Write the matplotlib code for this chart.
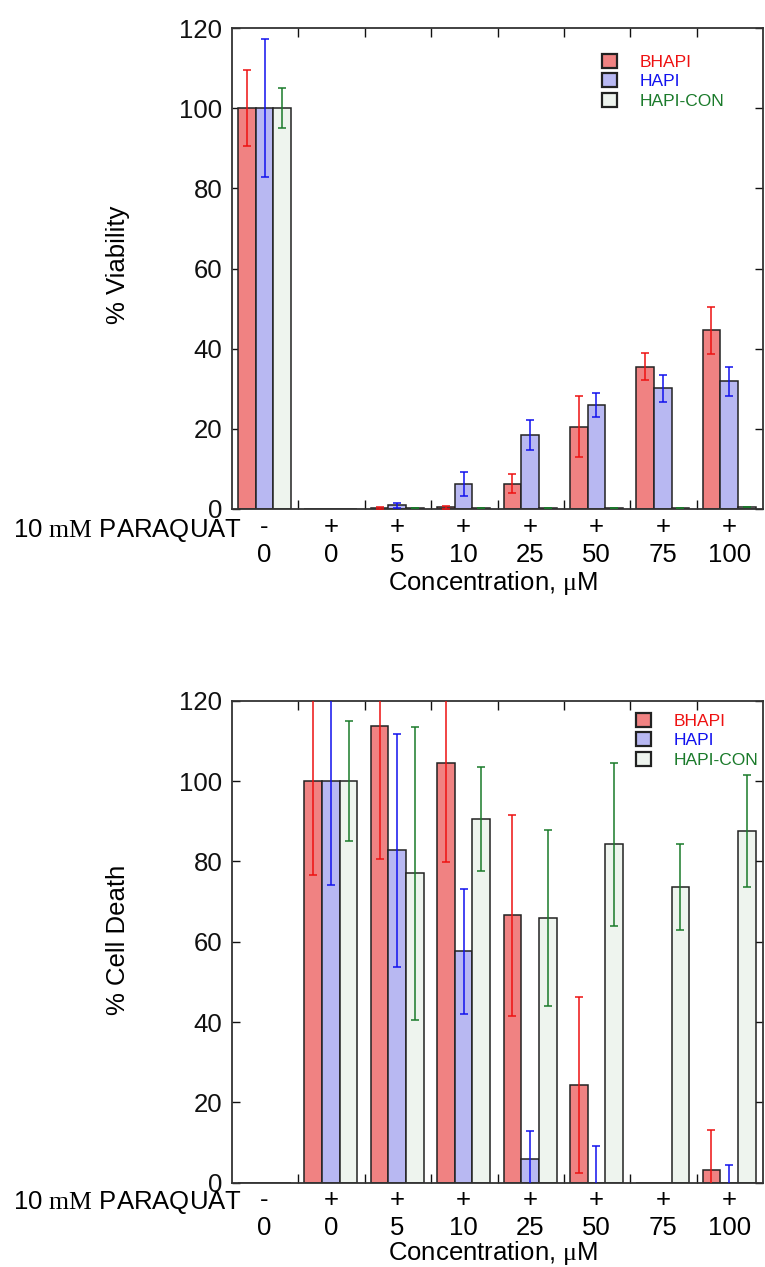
import numpy as np
import matplotlib
matplotlib.use("Agg")
import matplotlib.pyplot as plt
from matplotlib.patches import Patch

plt.rcParams['font.family'] = ['Liberation Sans', 'DejaVu Sans']
plt.rcParams['mathtext.fontset'] = 'custom'
plt.rcParams['mathtext.rm'] = 'Liberation Serif'
plt.rcParams['mathtext.it'] = 'Liberation Serif:italic'

# ---------------- data ----------------
paraquat = ['-', '+', '+', '+', '+', '+', '+', '+']
conc = ['0', '0', '5', '10', '25', '50', '75', '100']
series = ['BHAPI', 'HAPI', 'HAPI-CON']

via_bhapi = [100, 0, 0.2, 0.4, 6.3, 20.5, 35.5, 44.6]
via_bhapi_err = [9.4, 0, 0.3, 0.4, 2.4, 7.6, 3.4, 5.9]
via_hapi = [100, 0, 0.9, 6.3, 18.4, 26.0, 30.1, 31.9]
via_hapi_err = [17.2, 0, 0.6, 3.0, 3.7, 3.0, 3.3, 3.6]
via_con = [100, 0, 0.3, 0.2, 0.3, 0.3, 0.3, 0.4]
via_con_err = [5.0, 0, 0, 0, 0, 0, 0, 0]

death_bhapi = [0, 100, 113.8, 104.6, 66.6, 24.3, 0, 3.2]
death_bhapi_err = [0, 23.4, 33.2, 24.7, 25.0, 22.0, 0, 10.0]
death_hapi = [0, 100, 82.8, 57.6, 5.9, 0, 0, 0]
death_hapi_err = [0, 26.0, 29.0, 15.5, 7.0, 9.1, 0, 4.4]
death_con = [0, 100, 77.0, 90.5, 65.9, 84.3, 73.6, 87.6]
death_con_err = [0, 15.0, 36.4, 13.0, 22.0, 20.3, 10.8, 14.0]

fills = ['#f08282', '#b8b8f2', '#eef4ee']
errc = ['#ee1111', '#1111ee', '#1a7a2a']

W, H = 765, 1267
fig = plt.figure(figsize=(W / 100, H / 100), dpi=100)

def px_axes(left, top, right, bottom):
    return fig.add_axes([left / W, 1 - bottom / H, (right - left) / W, (bottom - top) / H])

def draw_panel(ax, vals, errs, ylabel, legend_anchor, lab_off, ylab_y):
    n = len(conc)
    centers = np.arange(n) + 0.49
    bw = 0.266
    offs = [-bw, 0, bw]
    for s in range(3):
        v = np.array(vals[s], float)
        e = np.array(errs[s], float)
        x = centers + offs[s]
        ax.bar(x, v, width=bw, color=fills[s], edgecolor='#222222', linewidth=1.1,
               zorder=2, label=series[s])
        m = (v > 0) | (e > 0)
        ax.errorbar(x[m], v[m], yerr=e[m], fmt='none', ecolor=errc[s], elinewidth=1.1,
                    capsize=2.8, capthick=1.1, zorder=3)
    ax.set_xlim(0, 8)
    ax.set_ylim(0, 120)
    ax.set_xticks(range(1, 8))
    ax.set_xticklabels([])
    ax.set_yticks(range(0, 121, 20))
    ax.tick_params(axis='both', direction='in', top=True, right=True, width=1.0,
                   labelsize=18.5, colors='#111111')
    ax.tick_params(axis='x', length=6.5)
    ax.tick_params(axis='y', length=5.5, pad=7)
    for sp in ax.spines.values():
        sp.set_linewidth(1.3)
        sp.set_color('#333333')
    # row labels
    for i in range(n):
        ax.annotate(paraquat[i], xy=(centers[i], 0), xycoords=('data', 'axes fraction'),
                    xytext=(0, -lab_off[0] * 0.72), textcoords='offset points',
                    ha='center', va='center', fontsize=18.5)
        ax.annotate(conc[i], xy=(centers[i], 0), xycoords=('data', 'axes fraction'),
                    xytext=(0, -lab_off[1] * 0.72), textcoords='offset points',
                    ha='center', va='center', fontsize=18.5)
    ax.annotate('Concentration, $\\mathrm{\\mu}$M', xy=(3.93, 0),
                xycoords=('data', 'axes fraction'),
                xytext=(0, -lab_off[2] * 0.72), textcoords='offset points',
                ha='center', va='center', fontsize=18.5)
    fig.text(118 / W, 1 - ylab_y / H, ylabel, rotation=90, ha='center', va='center',
             fontsize=18.5)
    handles = [Patch(facecolor=fills[s], edgecolor='#222222', linewidth=1.6) for s in range(3)]
    leg = ax.legend(handles, series, loc='upper left', bbox_to_anchor=legend_anchor,
                    frameon=False, fontsize=12.5, handlelength=0.85, handleheight=0.85,
                    handletextpad=1.3, labelspacing=0.2, borderpad=0, borderaxespad=0)
    for t, c in zip(leg.get_texts(), errc):
        t.set_color(c)

ax1 = px_axes(232, 28, 763, 509)
draw_panel(ax1, [via_bhapi, via_hapi, via_con], [via_bhapi_err, via_hapi_err, via_con_err],
           '% Viability', ((602 - 232) / 531, (509 - 54) / 481), (18, 46, 74), 265)
fig.text(242 / W, 1 - 531 / H, '10 $\\mathrm{mM}$ PARAQUAT', ha='right', va='center',
         fontsize=18.5)

ax2 = px_axes(232, 700.7, 763, 1182.7)
draw_panel(ax2, [death_bhapi, death_hapi, death_con],
           [death_bhapi_err, death_hapi_err, death_con_err],
           '% Cell Death', ((636 - 232) / 531, (1182.7 - 713) / 482), (17, 45, 70), 940)
fig.text(242 / W, 1 - 1203 / H, '10 $\\mathrm{mM}$ PARAQUAT', ha='right', va='center',
         fontsize=18.5)

fig.savefig('out.png', dpi=100)
